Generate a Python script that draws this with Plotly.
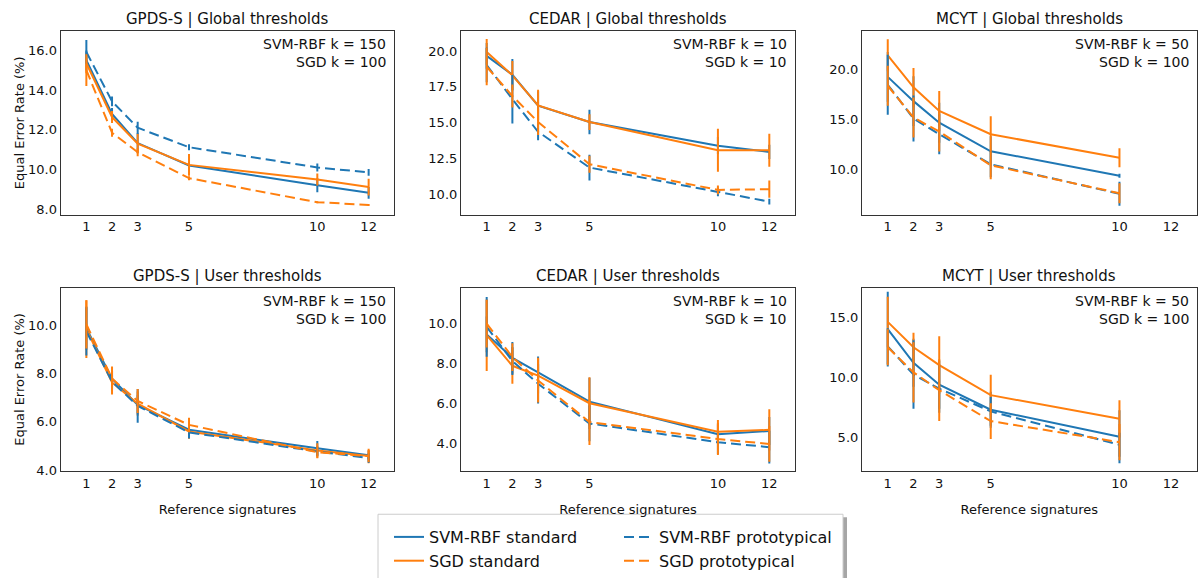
import plotly.graph_objects as go

# ---------------- data ----------------
ref_12 = [1, 2, 3, 5, 10, 12]
ref_10 = [1, 2, 3, 5, 10]
x_ticks = [1, 2, 3, 5, 10, 12]

series_names = ["SVM-RBF standard", "SGD standard", "SVM-RBF prototypical", "SGD prototypical"]

# GPDS-S | Global thresholds
gpds_g_svm_std = [15.5, 12.8, 11.33, 10.2, 9.2, 8.82]
gpds_g_svm_std_err = [0.5, 0.3, 0.5, 0.45, 0.35, 0.3]
gpds_g_sgd_std = [15.35, 12.64, 11.3, 10.23, 9.49, 9.11]
gpds_g_sgd_std_err = [0.5, 0.3, 0.5, 0.55, 0.3, 0.42]
gpds_g_svm_pro = [15.92, 13.43, 12.1, 11.12, 10.1, 9.85]
gpds_g_svm_pro_err = [0.6, 0.25, 0.3, 0.15, 0.2, 0.17]
gpds_g_sgd_pro = [15.0, 11.85, 10.87, 9.56, 8.35, 8.21]
gpds_g_sgd_pro_err = [0.8, 0.2, 0.2, 0.1, 0.05, 0.05]

# CEDAR | Global thresholds
cedar_g_svm_std = [19.66, 18.34, 16.18, 15.04, 13.39, 12.95]
cedar_g_svm_std_err = [0.9, 1.1, 1.0, 0.85, 0.6, 0.5]
cedar_g_sgd_std = [19.93, 18.3, 16.2, 15.04, 13.07, 13.07]
cedar_g_sgd_std_err = [0.9, 1.0, 1.1, 0.55, 1.5, 1.15]
cedar_g_svm_pro = [19.02, 16.63, 14.36, 11.86, 10.16, 9.48]
cedar_g_svm_pro_err = [1.2, 1.7, 0.6, 0.9, 0.3, 0.2]
cedar_g_sgd_pro = [18.9, 16.86, 15.04, 12.09, 10.3, 10.35]
cedar_g_sgd_pro_err = [1.3, 0.8, 0.9, 0.6, 0.3, 0.6]

# MCYT | Global thresholds
mcyt_g_svm_std = [19.25, 16.82, 14.66, 11.8, 9.34]
mcyt_g_svm_std_err = [2.5, 2.5, 2.0, 1.5, 0.2]
mcyt_g_sgd_std = [21.41, 18.2, 15.84, 13.5, 11.15]
mcyt_g_sgd_std_err = [1.6, 1.95, 2.0, 1.8, 0.95]
mcyt_g_svm_pro = [18.46, 15.08, 13.5, 10.5, 7.54]
mcyt_g_svm_pro_err = [3.0, 2.3, 2.0, 1.3, 1.2]
mcyt_g_sgd_pro = [18.36, 15.18, 13.77, 10.4, 7.6]
mcyt_g_sgd_pro_err = [2.0, 2.0, 2.0, 1.4, 1.0]

# GPDS-S | User thresholds
gpds_u_svm_std = [9.88, 7.79, 6.7, 5.67, 4.9, 4.61]
gpds_u_svm_std_err = [0.9, 0.35, 0.4, 0.2, 0.3, 0.2]
gpds_u_sgd_std = [9.84, 7.63, 6.75, 5.6, 4.81, 4.58]
gpds_u_sgd_std_err = [1.2, 0.5, 0.5, 0.3, 0.3, 0.3]
gpds_u_svm_pro = [9.75, 7.66, 6.66, 5.56, 4.77, 4.5]
gpds_u_svm_pro_err = [1.0, 0.3, 0.7, 0.25, 0.2, 0.2]
gpds_u_sgd_pro = [10.04, 7.79, 6.86, 5.87, 4.74, 4.58]
gpds_u_sgd_pro_err = [1.0, 0.5, 0.5, 0.3, 0.25, 0.25]

# CEDAR | User thresholds
cedar_u_svm_std = [9.46, 8.28, 7.55, 6.08, 4.44, 4.6]
cedar_u_svm_std_err = [0.9, 0.8, 0.8, 1.2, 0.5, 0.7]
cedar_u_sgd_std = [9.42, 7.88, 7.39, 6.0, 4.56, 4.66]
cedar_u_sgd_std_err = [1.8, 0.9, 0.9, 1.3, 0.6, 1.04]
cedar_u_svm_pro = [9.84, 8.12, 6.98, 4.98, 4.04, 3.79]
cedar_u_svm_pro_err = [1.5, 0.7, 1.0, 0.9, 0.6, 0.82]
cedar_u_sgd_pro = [10.0, 8.32, 7.14, 5.05, 4.2, 3.95]
cedar_u_sgd_pro_err = [1.2, 0.7, 1.1, 1.15, 0.8, 0.9]

# MCYT | User thresholds
mcyt_u_svm_std = [14.0, 11.2, 9.38, 7.3, 5.05]
mcyt_u_svm_std_err = [3.1, 2.0, 2.0, 1.5, 2.2]
mcyt_u_sgd_std = [14.6, 12.49, 11.0, 8.51, 6.54]
mcyt_u_sgd_std_err = [2.1, 1.2, 2.4, 1.7, 1.55]
mcyt_u_svm_pro = [12.57, 10.22, 9.05, 7.16, 4.38]
mcyt_u_svm_pro_err = [1.5, 2.85, 2.0, 1.2, 1.0]
mcyt_u_sgd_pro = [12.49, 10.4, 8.92, 6.35, 4.6]
mcyt_u_sgd_pro_err = [1.5, 2.5, 2.57, 1.49, 1.5]

panel_titles = ["GPDS-S | Global thresholds", "CEDAR | Global thresholds", "MCYT | Global thresholds",
                "GPDS-S | User thresholds", "CEDAR | User thresholds", "MCYT | User thresholds"]
k_svm = ["SVM-RBF k = 150", "SVM-RBF k = 10", "SVM-RBF k = 50",
         "SVM-RBF k = 150", "SVM-RBF k = 10", "SVM-RBF k = 50"]
k_sgd = ["SGD k = 100", "SGD k = 10", "SGD k = 100",
         "SGD k = 100", "SGD k = 10", "SGD k = 100"]
y_ticks = [[8, 10, 12, 14, 16], [10, 12.5, 15, 17.5, 20], [10, 15, 20],
           [4, 6, 8, 10], [4, 6, 8, 10], [5, 10, 15]]
y_ranges = [[7.72, 16.98], [8.57, 21.4], [5.45, 23.85],
            [3.96, 11.55], [2.59, 11.8], [2.2, 17.43]]

panels = [
    (ref_12, [(gpds_g_svm_std, gpds_g_svm_std_err), (gpds_g_sgd_std, gpds_g_sgd_std_err),
              (gpds_g_svm_pro, gpds_g_svm_pro_err), (gpds_g_sgd_pro, gpds_g_sgd_pro_err)]),
    (ref_12, [(cedar_g_svm_std, cedar_g_svm_std_err), (cedar_g_sgd_std, cedar_g_sgd_std_err),
              (cedar_g_svm_pro, cedar_g_svm_pro_err), (cedar_g_sgd_pro, cedar_g_sgd_pro_err)]),
    (ref_10, [(mcyt_g_svm_std, mcyt_g_svm_std_err), (mcyt_g_sgd_std, mcyt_g_sgd_std_err),
              (mcyt_g_svm_pro, mcyt_g_svm_pro_err), (mcyt_g_sgd_pro, mcyt_g_sgd_pro_err)]),
    (ref_12, [(gpds_u_svm_std, gpds_u_svm_std_err), (gpds_u_sgd_std, gpds_u_sgd_std_err),
              (gpds_u_svm_pro, gpds_u_svm_pro_err), (gpds_u_sgd_pro, gpds_u_sgd_pro_err)]),
    (ref_12, [(cedar_u_svm_std, cedar_u_svm_std_err), (cedar_u_sgd_std, cedar_u_sgd_std_err),
              (cedar_u_svm_pro, cedar_u_svm_pro_err), (cedar_u_sgd_pro, cedar_u_sgd_pro_err)]),
    (ref_10, [(mcyt_u_svm_std, mcyt_u_svm_std_err), (mcyt_u_sgd_std, mcyt_u_sgd_std_err),
              (mcyt_u_svm_pro, mcyt_u_svm_pro_err), (mcyt_u_sgd_pro, mcyt_u_sgd_pro_err)]),
]

# ---------------- style ----------------
W, H = 1198, 578
BLUE, ORANGE = "#1f77b4", "#ff7f0e"
colors = [BLUE, ORANGE, BLUE, ORANGE]
dashes = ["solid", "solid", "10px,5px", "10px,5px"]
legends = ["legend", "legend", "legend2", "legend2"]
FONT = "DejaVu Sans"

x_domains = [[60.7 / W, 394.3 / W], [461 / W, 795 / W], [862 / W, 1196.7 / W]]
y_domains = [[1 - 220 / H, 1 - 31.7 / H], [1 - 482.7 / H, 1 - 295 / H]]

fig = go.Figure()
layout = dict(
    width=W, height=H, margin=dict(l=0, r=0, t=0, b=0),
    paper_bgcolor="white", plot_bgcolor="white",
    font=dict(family=FONT, size=13, color="#111"),
    showlegend=True,
)
annotations = []

for p, (xs, series) in enumerate(panels):
    row, col = divmod(p, 3)
    ax = "" if p == 0 else str(p + 1)
    for s, (vals, errs) in enumerate(series):
        fig.add_trace(go.Scatter(
            x=xs, y=vals, mode="lines",
            name=series_names[s],
            line=dict(color=colors[s], width=2, dash=dashes[s]),
            error_y=dict(type="data", array=errs, visible=True, color=colors[s],
                         thickness=2, width=0),
            xaxis="x" + ax, yaxis="y" + ax,
            showlegend=(p == 0), legend=legends[s],
        ))
    layout["xaxis" + ax] = dict(
        domain=x_domains[col], anchor="y" + ax, range=[0, 13],
        tickmode="array", tickvals=x_ticks, ticks="",
        showline=True, linecolor="#333", linewidth=1.2, mirror=True,
        showgrid=False, zeroline=False, tickfont=dict(size=13),
        title=dict(text="Reference signatures" if row == 1 else "", font=dict(size=13), standoff=15),
    )
    layout["yaxis" + ax] = dict(
        domain=y_domains[row], anchor="x" + ax, range=y_ranges[p],
        tickmode="array", tickvals=y_ticks[p], tickformat=".1f", ticks="",
        showline=True, linecolor="#333", linewidth=1.2, mirror=True,
        showgrid=False, zeroline=False, tickfont=dict(size=13),
        title=dict(text="Equal Error Rate (%)" if col == 0 else "", font=dict(size=13), standoff=0),
    )
    xd = x_domains[col]
    yd = y_domains[row]
    annotations.append(dict(
        text=panel_titles[p], xref="paper", yref="paper",
        x=(xd[0] + xd[1]) / 2, y=yd[1], yshift=11.5, xanchor="center", yanchor="middle",
        showarrow=False, font=dict(size=15, color="#111"),
    ))
    annotations.append(dict(
        text=k_svm[p], xref="x" + ax + " domain", yref="y" + ax + " domain",
        x=1, y=1, xshift=-6, yshift=-13, xanchor="right", yanchor="middle",
        showarrow=False, font=dict(size=14, color="#111"),
    ))
    annotations.append(dict(
        text=k_sgd[p], xref="x" + ax + " domain", yref="y" + ax + " domain",
        x=1, y=1, xshift=-6, yshift=-31.5, xanchor="right", yanchor="middle",
        showarrow=False, font=dict(size=14, color="#111"),
    ))

layout["annotations"] = annotations
layout["legend"] = dict(x=389 / W, y=1 - 533 / H, xanchor="left", yanchor="top",
                        orientation="v", bgcolor="rgba(0,0,0,0)", borderwidth=0,
                        font=dict(size=16, family=FONT, color="#111"))
layout["legend2"] = dict(x=619 / W, y=1 - 533 / H, xanchor="left", yanchor="top",
                         orientation="v", bgcolor="rgba(0,0,0,0)", borderwidth=0,
                         font=dict(size=16, family=FONT, color="#111"))
layout["shapes"] = [
    dict(type="rect", xref="paper", yref="paper", x0=381 / W, x1=847 / W, y0=-0.1, y1=1 - 530 / H,
         fillcolor="rgba(0,0,0,0.35)", line=dict(width=0), layer="below"),
    dict(type="rect", xref="paper", yref="paper", x0=378 / W, x1=843 / W, y0=-0.1, y1=1 - 527 / H,
         fillcolor="white", line=dict(color="#cccccc", width=1), layer="below"),
]
fig.update_layout(**layout)

fig.write_html("out.html", config={"displayModeBar": False},
               post_script="document.body.style.margin='0';")
